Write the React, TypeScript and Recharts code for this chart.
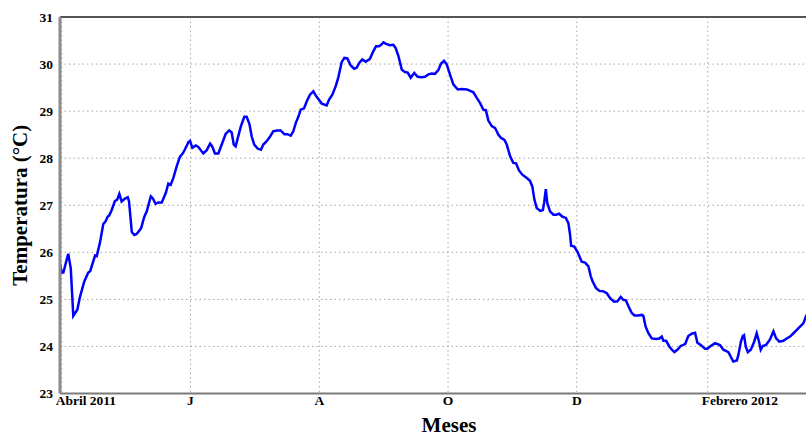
import React from "react";
import {
  LineChart,
  Line,
  XAxis,
  YAxis,
  CartesianGrid,
  ReferenceLine,
  Label,
} from "recharts";

// Days elapsed since 1 April 2011
const days: number[] = [
  -0.8, 0, 0.8, 3.1, 4.3, 5.5, 7.4, 8.7, 10.7, 12.6, 13.5, 15.8, 16.6, 18.1, 19.7,
  20.8, 21.8, 22.5, 23.7, 25.2, 26.3, 27.3, 28.4, 30.0, 31.3, 31.9, 33.2, 34.4,
  35.5, 37.6, 39.1, 40.3, 42.2, 43.1, 44.5, 45.8, 47.4, 49.3, 50.5, 51.6, 52.9,
  54.5, 56.0, 57.3, 58.4, 60.0, 60.8, 61.9, 63.5, 64.7, 67.1, 68.7, 70.3, 71.3,
  72.6, 74.2, 75.8, 77.7, 79.4, 80.5, 81.5, 82.4, 83.7, 84.9, 86.5, 87.6, 88.9,
  90.0, 91.2, 92.9, 94.4, 95.5, 97.1, 98.7, 100.2, 101.9, 103.7, 105.5, 106.9,
  108.5, 109.7, 110.9, 112.1, 113.2, 114.8, 116.1, 117.6, 119.2, 120.5, 122.0,
  123.2, 125.5, 126.6, 128.2, 129.8, 131.0, 132.6, 133.9, 135.3, 136.9, 138.5,
  139.7, 141.0, 142.4, 144.0, 146.0, 147.6, 148.9, 150.3, 151.3, 152.4, 153.6,
  155.5, 157.1, 158.2, 159.5, 161.1, 162.6, 163.9, 165.3, 167.0, 168.6, 170.5,
  172.1, 173.7, 175.3, 176.8, 178.4, 179.7, 181.1, 182.4, 183.9, 185.5, 187.6,
  189.5, 191.9, 195.0, 196.6, 198.2, 199.7, 200.9, 202.1, 203.7, 205.3, 206.8,
  208.1, 209.7, 210.8, 212.4, 213.9, 215.2, 216.6, 218.2, 220.3, 221.8, 222.9,
  223.9, 225.0, 226.6, 227.9, 228.5, 229.3, 230.0, 231.3, 232.9, 234.2, 235.6,
  237.1, 238.8, 240.0, 240.8, 241.3, 242.8, 244.4, 246.3, 247.9, 249.5, 250.6,
  251.5, 253.1, 254.7, 256.6, 258.2, 259.7, 261.6, 263.2, 264.8, 266.0, 267.2,
  268.4, 270.0, 271.3, 273.1, 274.8, 275.5, 276.6, 277.9, 279.5, 281.5, 283.1,
  284.2, 285.0, 286.3, 287.8, 289.0, 290.2, 291.6, 293.2, 295.3, 296.8, 298.4,
  300.0, 301.1, 302.7, 304.7, 305.8, 307.4, 309.5, 311.8, 313.4, 315.8, 316.9,
  318.1, 319.8, 320.5, 321.7, 322.6, 323.2, 324.0, 325.0, 326.4, 328.0, 329.2,
  330.3, 331.1, 332.1, 333.6, 335.5, 337.1, 338.4, 339.9, 341.8, 343.4, 345.0,
  346.6, 348.2, 349.7, 351.3, 352.6, 354.0,
];

// Daily mean temperature, °C
const temperatures: number[] = [
  25.75, 25.57, 25.57, 25.97, 25.66, 24.65, 24.78, 25.06, 25.38, 25.57, 25.6,
  25.93, 25.92, 26.2, 26.6, 26.66, 26.76, 26.78, 26.9, 27.09, 27.12, 27.24, 27.08,
  27.14, 27.17, 27.08, 26.43, 26.37, 26.39, 26.51, 26.75, 26.87, 27.19, 27.15,
  27.03, 27.06, 27.06, 27.26, 27.46, 27.43, 27.58, 27.83, 28.03, 28.1, 28.19,
  28.34, 28.37, 28.22, 28.27, 28.24, 28.1, 28.17, 28.31, 28.25, 28.1, 28.1, 28.29,
  28.52, 28.59, 28.55, 28.29, 28.25, 28.48, 28.68, 28.88, 28.88, 28.73, 28.46,
  28.29, 28.2, 28.18, 28.29, 28.36, 28.46, 28.57, 28.59, 28.59, 28.51, 28.51,
  28.48, 28.57, 28.75, 28.88, 29.03, 29.06, 29.21, 29.35, 29.42, 29.32, 29.23,
  29.16, 29.12, 29.24, 29.35, 29.53, 29.71, 30.04, 30.13, 30.12, 29.97, 29.9,
  29.92, 30.03, 30.1, 30.05, 30.11, 30.27, 30.38, 30.38, 30.41, 30.46, 30.43,
  30.4, 30.41, 30.34, 30.17, 29.88, 29.83, 29.82, 29.71, 29.81, 29.73, 29.72,
  29.73, 29.78, 29.8, 29.79, 29.87, 30.01, 30.07, 29.99, 29.78, 29.57, 29.46,
  29.47, 29.46, 29.4, 29.28, 29.17, 29.03, 29.02, 28.8, 28.68, 28.64, 28.5, 28.43,
  28.39, 28.29, 28.04, 27.9, 27.89, 27.74, 27.65, 27.58, 27.52, 27.4, 27.12,
  26.94, 26.88, 26.9, 27.05, 27.34, 27.05, 26.87, 26.8, 26.8, 26.82, 26.76, 26.73,
  26.62, 26.37, 26.14, 26.12, 26.0, 25.8, 25.78, 25.7, 25.49, 25.38, 25.24, 25.18,
  25.17, 25.13, 25.03, 24.95, 24.96, 25.05, 24.99, 24.98, 24.86, 24.71, 24.66,
  24.66, 24.67, 24.65, 24.42, 24.28, 24.17, 24.16, 24.17, 24.21, 24.12, 24.12,
  24.0, 23.93, 23.88, 23.93, 24.01, 24.05, 24.22, 24.27, 24.29, 24.08, 24.03,
  23.95, 23.95, 24.01, 24.07, 24.03, 23.93, 23.88, 23.78, 23.68, 23.7, 23.82,
  24.1, 24.22, 24.24, 24.0, 23.88, 23.93, 24.1, 24.28, 24.1, 23.93, 24.01, 24.03,
  24.15, 24.32, 24.17, 24.1, 24.12, 24.17, 24.21, 24.28, 24.35, 24.42, 24.49,
  24.65, 24.75,
];

// Month ticks (day offsets) and their labels
const monthTickDays: number[] = [0, 61, 122, 183, 244, 306];
const monthTickLabels: string[] = ["Abril 2011", "J", "A", "O", "D", "Febrero 2012"];

const tempTicks: number[] = [23, 24, 25, 26, 27, 28, 29, 30, 31];

const rows = days.map((d, i) => ({ day: d, temp: temperatures[i] }));

const FONT = '"Liberation Serif", "Times New Roman", serif';

const MonthTick = (props: any) => {
  const { x, y, payload } = props;
  const idx = monthTickDays.indexOf(payload.value);
  const text = idx >= 0 ? monthTickLabels[idx] : "";
  const long = text.length > 1;
  return (
    <text
      x={long ? x - 6 : x}
      y={y + 11.5}
      textAnchor={long ? "start" : "middle"}
      fontFamily={FONT}
      fontWeight="bold"
      fontSize={13.5}
      fill="#000"
    >
      {text}
    </text>
  );
};

const TempTick = (props: any) => {
  const { x, y, payload } = props;
  return (
    <text
      x={x}
      y={y + 4.5}
      textAnchor="end"
      fontFamily={FONT}
      fontWeight="bold"
      fontSize={13.5}
      fill="#000"
    >
      {payload.value}
    </text>
  );
};

const XTitle = (props: any) => {
  const vb = props.viewBox || { x: 60, y: 393.5, width: 778, height: 42.5 };
  return (
    <text
      x={vb.x + vb.width / 2}
      y={vb.y + 38}
      textAnchor="middle"
      fontFamily={FONT}
      fontWeight="bold"
      fontSize={21}
      fill="#000"
    >
      Meses
    </text>
  );
};

const YTitle = (props: any) => {
  const vb = props.viewBox || { x: 0, y: 17, width: 60, height: 376.5 };
  const cx = vb.x + 26.5;
  const cy = vb.y + vb.height / 2;
  return (
    <text
      x={cx}
      y={cy}
      transform={`rotate(-90, ${cx}, ${cy})`}
      textAnchor="middle"
      fontFamily={FONT}
      fontWeight="bold"
      fontSize={21}
      fill="#000"
    >
      Temperatura (°C)
    </text>
  );
};

export default function App() {
  return (
    <div
      style={{
        position: "absolute",
        left: 0,
        top: 0,
        width: 806,
        height: 436,
        overflow: "hidden",
        background: "#fff",
      }}
    >
      <LineChart
        width={838}
        height={436}
        data={rows}
        margin={{ top: 17, right: 0, left: 0, bottom: 0 }}
      >
        <CartesianGrid
          stroke="#a6a6a6"
          strokeDasharray="1.5 3"
          strokeWidth={1}
        />
        <XAxis
          dataKey="day"
          type="number"
          domain={[-0.8, 367.7]}
          ticks={monthTickDays}
          tick={<MonthTick />}
          tickLine={false}
          tickSize={0}
          tickMargin={0}
          height={42.5}
          axisLine={{ stroke: "#7a7a7a", strokeWidth: 2 }}
          allowDataOverflow
          interval={0}
        >
          <Label content={<XTitle />} />
        </XAxis>
        <YAxis
          type="number"
          domain={[23, 31]}
          ticks={tempTicks}
          tick={<TempTick />}
          tickLine={false}
          tickSize={0}
          tickMargin={7}
          width={60}
          axisLine={{ stroke: "#8c8c8c", strokeWidth: 3 }}
          allowDataOverflow
          interval={0}
        >
          <Label content={<YTitle />} />
        </YAxis>
        <ReferenceLine y={31} stroke="#555" strokeWidth={2} />
        <Line
          type="linear"
          dataKey="temp"
          stroke="#0000ff"
          strokeWidth={2.5}
          dot={false}
          isAnimationActive={false}
        />
      </LineChart>
    </div>
  );
}
